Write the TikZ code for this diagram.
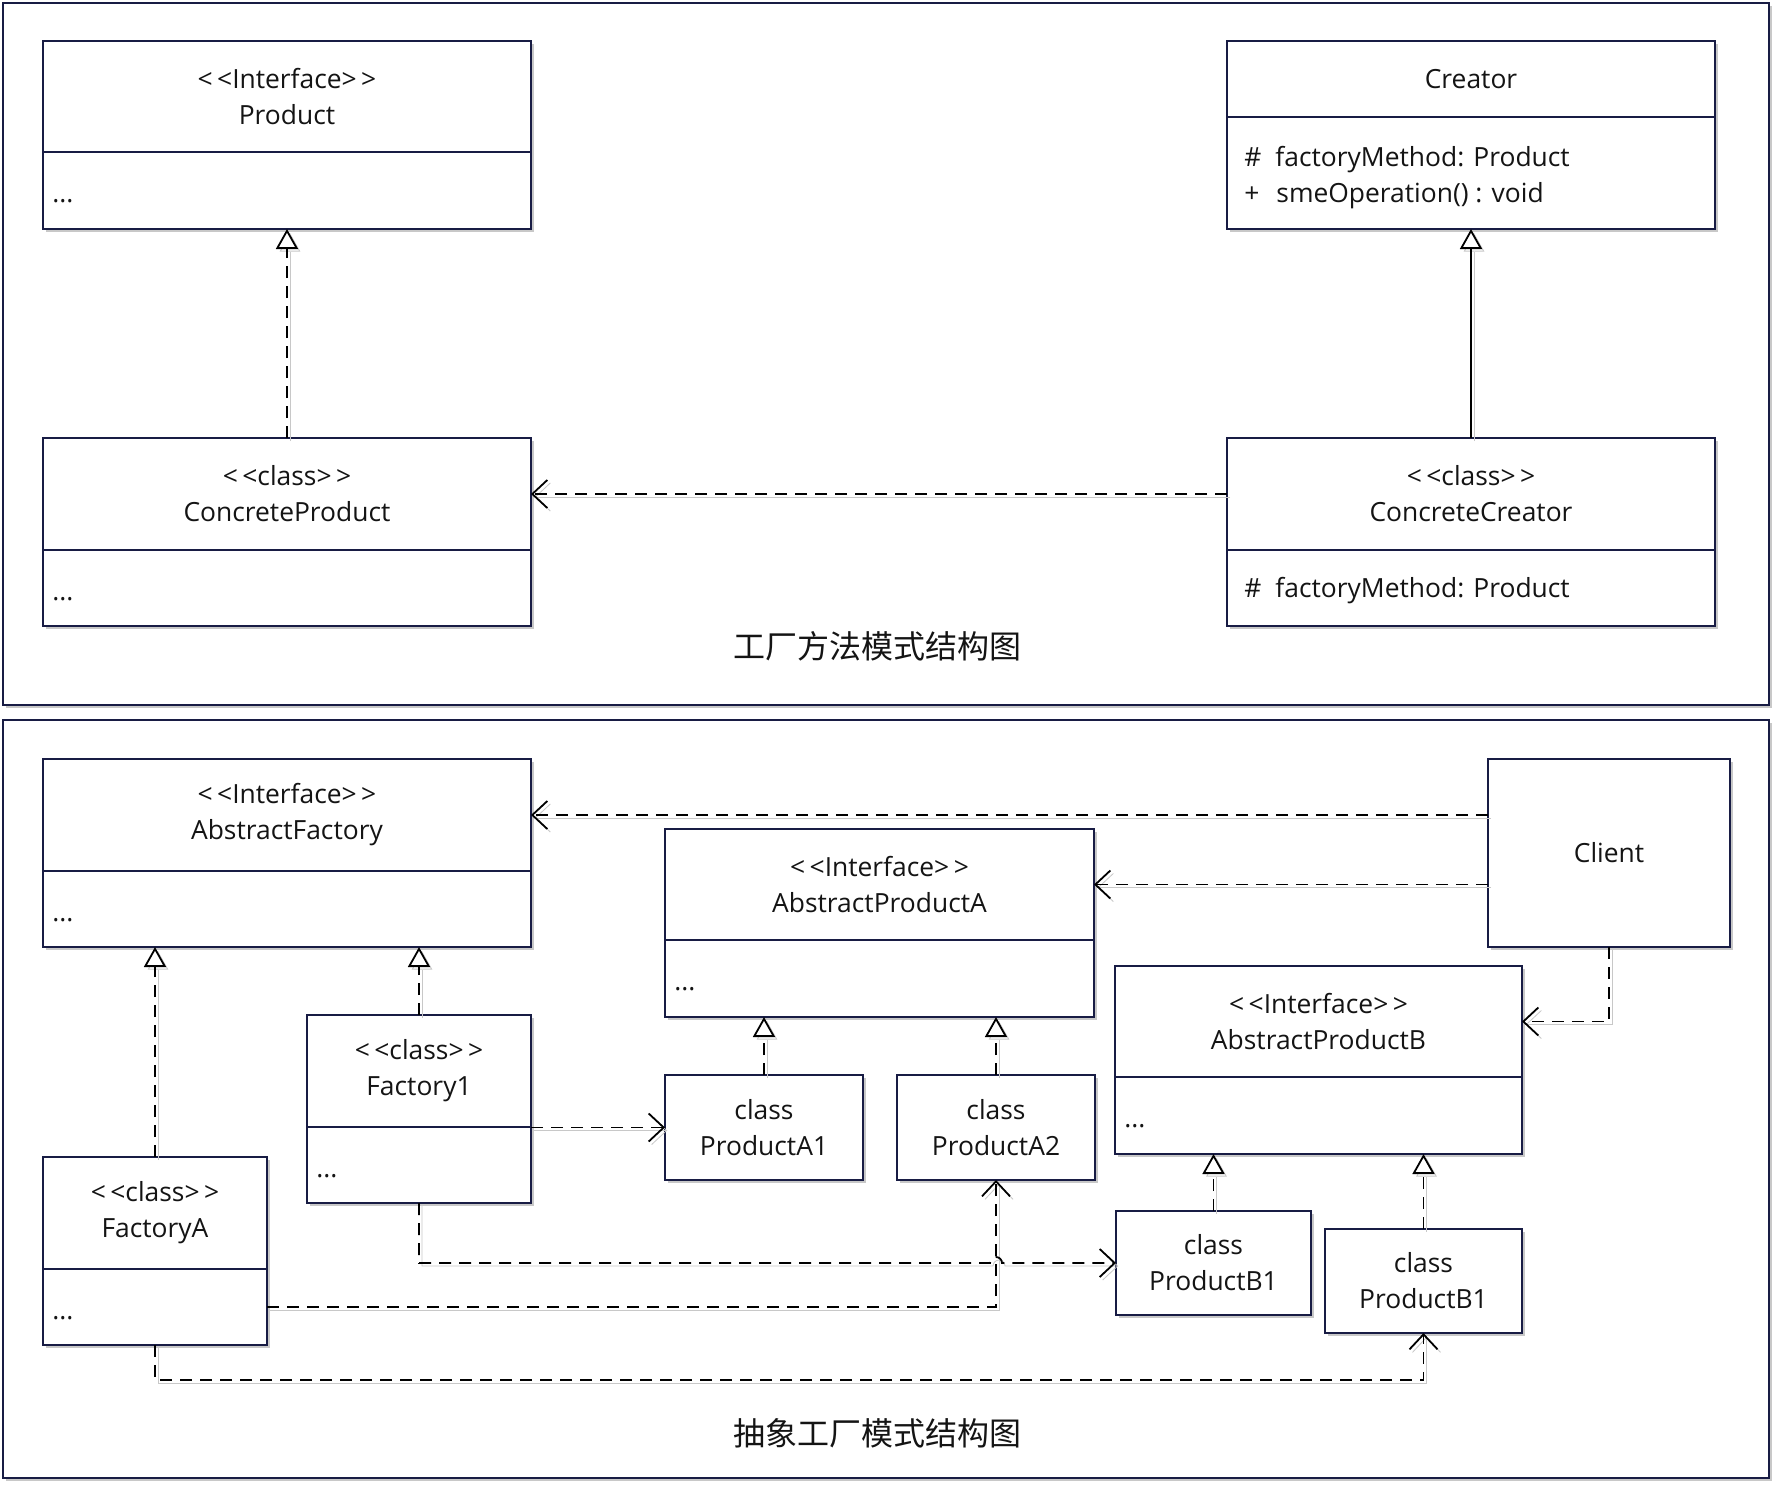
\documentclass[tikz,border=0pt]{standalone}
\usepackage{fontspec}
\setmainfont{Open Sans}
\newfontfamily\cjk{Noto Sans CJK SC}
\usetikzlibrary{arrows.meta,shadows,calc}
\definecolor{nav}{RGB}{24,28,68}
\definecolor{txt}{RGB}{20,20,20}
\definecolor{shd}{RGB}{200,200,200}
\newcommand\clsbox[8]{%
  \node[box, minimum width=#4*0.5pt, minimum height=#5*0.5pt] (#1) at (#2,#3) {#7};
  \node[box, minimum width=#4*0.5pt, minimum height=#6*0.5pt] (#1b) at (#1.south west) {};
  \node[anchor=west, inner sep=0pt, align=left] (#1t) at ($(#1b.west)+(9,5)$) {#8};
}
\newcommand\simplebox[6]{%
  \node[box, minimum width=#4*0.5pt, minimum height=#5*0.5pt] (#1) at (#2,#3) {#6};
}
\begin{document}
\begin{tikzpicture}[x=0.5pt,y=-0.5pt, font=\fontsize{13.2}{18}\selectfont, text=txt,
  box/.style={draw=nav, line width=1.1pt, fill=white, rectangle, inner sep=0pt, outer sep=0pt,
    anchor=north west, align=center,
    general shadow={fill=shd, shadow xshift=1.6pt, shadow yshift=-1.6pt}},
  panel/.style={draw=nav, line width=1.3pt, fill=white, rectangle, inner sep=0pt, outer sep=0pt,
    anchor=north west, general shadow={fill=shd, shadow xshift=1.6pt, shadow yshift=-1.6pt}},
  lshadow/.style={preaction={draw=shd, transform canvas={shift={(1.5pt,-1.5pt)}}}},
  lk/.style={draw=black, line width=0.9pt, lshadow},
  dsh/.style={dash pattern=on 6pt off 4pt},
  tri/.style={-{Triangle[length=10pt, width=11pt, line width=0.9pt, fill=white]}},
  vee/.style={-{Straight Barb[length=7.5pt, width=14pt, line width=0.9pt]}},
  captxt/.style={font=\cjk\fontsize{16}{20}\selectfont}
]
\useasboundingbox (0,0) rectangle (1776,1484);
% panels
\node[panel, minimum width=1766*0.5pt, minimum height=702*0.5pt] (panA) at (3,3) {};
\node[panel, minimum width=1766*0.5pt, minimum height=758*0.5pt] (panB) at (3,720) {};

% ---------- factory method ----------
\clsbox{prod}{43}{41}{488}{111}{77}{<\,<Interface>\,>\\Product}{\strut...}
\clsbox{cre}{1227}{41}{488}{76}{112}{Creator}{}
\node[anchor=west, inner sep=0pt, align=left] (cremeth) at ($(creb.west)+(17,5)$)
  {\makebox[15.5pt][l]{\#}factoryMethod: Product\\\makebox[16pt][l]{+}smeOperation() : void};
\clsbox{cp}{43}{438}{488}{112}{76}{<\,<class>\,>\\ConcreteProduct}{\strut...}
\clsbox{cc}{1227}{438}{488}{112}{76}{<\,<class>\,>\\ConcreteCreator}{}
\node[anchor=west, inner sep=0pt, align=left] (ccmeth) at ($(ccb.west)+(17,3)$)
  {\makebox[15.5pt][l]{\#}factoryMethod: Product};
\node[captxt] (capA) at (877,646) {工厂方法模式结构图};

\draw[lk,dsh,tri] (cp.north) -- (cp.north |- prodb.south);
\draw[lk,tri] (cc.north) -- (cc.north |- creb.south);
\draw[lk,dsh,vee] (cc.west) -- (cp.east);

% ---------- abstract factory ----------
\clsbox{af}{43}{759}{488}{112}{76}{<\,<Interface>\,>\\AbstractFactory}{\strut...}
\clsbox{apa}{665}{829}{429}{111}{77}{<\,<Interface>\,>\\AbstractProductA}{\strut...}
\clsbox{apb}{1115}{966}{407}{111}{77}{<\,<Interface>\,>\\AbstractProductB}{\strut...}
\clsbox{fone}{307}{1015}{224}{112}{76}{<\,<class>\,>\\Factory1}{\strut...}
\clsbox{fa}{43}{1157}{224}{112}{76}{<\,<class>\,>\\FactoryA}{\strut...}
\simplebox{client}{1488}{759}{242}{188}{Client}
\simplebox{pa1}{665}{1075}{198}{105}{class\\ProductA1}
\simplebox{pa2}{897}{1075}{198}{105}{class\\ProductA2}
\simplebox{pb1}{1116}{1211}{195}{104}{class\\ProductB1}
\simplebox{pb2}{1325}{1229}{197}{104}{class\\ProductB1}
\node[captxt] (capB) at (877,1433) {抽象工厂模式结构图};

\draw[lk,dsh,vee] (client.west |- af.east) -- (af.east);
\draw[lk,dsh,vee] (client.west |- apa.east) -- (apa.east);
\draw[lk,dsh,vee] (client.south) |- (apb.east);
\draw[lk,dsh,tri] (fa.north) -- (fa.north |- afb.south);
\draw[lk,dsh,tri] (fone.north) -- (fone.north |- afb.south);
\draw[lk,dsh,tri] (pa1.north) -- (pa1.north |- apab.south);
\draw[lk,dsh,tri] (pa2.north) -- (pa2.north |- apab.south);
\draw[lk,dsh,tri] (pb1.north) -- (pb1.north |- apbb.south);
\draw[lk,dsh,tri] (pb2.north) -- (pb2.north |- apbb.south);
\draw[lk,dsh,vee] (fone.south east |- pa1.west) -- (pa1.west);
\draw[lk,dsh,vee] (fab.east) -| (pa2.south);
\draw[lk,dsh,vee] (foneb.south) |- ($(pa2.south |- pb1.west)+(-6,0)$)
  arc[start angle=180, end angle=360, radius=6] -- (pb1.west);
\draw[lk,dsh,vee] (fab.south) -- ++(0,35) -| (pb2.south);
\end{tikzpicture}
\end{document}
